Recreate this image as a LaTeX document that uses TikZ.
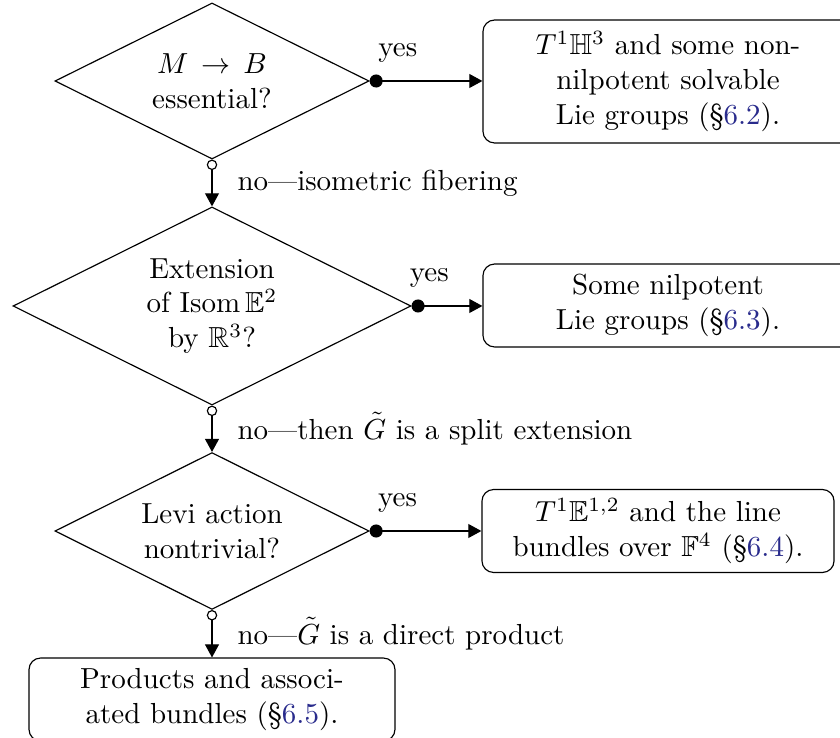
\documentclass[tikz,border=0pt]{standalone}
\usepackage{amssymb}
\usetikzlibrary{shapes.geometric,arrows.meta}
\definecolor{linkblue}{rgb}{0.16,0.17,0.55}
\newcommand{\secref}[1]{\S\textcolor{linkblue}{#1}}
\tikzset{
  decision/.style={draw, shape=diamond, aspect=2, inner sep=0pt, align=center},
  outcome/.style={draw, rounded corners=4pt, align=center, inner sep=0pt, minimum height=28.6pt},
  yesarrow/.style={{Circle[length=4.5pt]}-{Triangle[length=4.5pt,width=4.8pt]}},
  noarrow/.style={{Circle[open,length=3.6pt]}-{Triangle[length=4.5pt,width=4.8pt]}},
  yeslabel/.style={pos=0.25, above, yshift=3pt},
  nolabel/.style={midway, right, xshift=5.3pt},
}
\begin{document}
\begin{tikzpicture}[x=0.3448pt, y=-0.3448pt]
\clip (0,0) rectangle (840,738);
% decisions
\node[decision, minimum width=108.3pt, minimum height=53.8pt] (d1) at (212,81)
  {$M\,\to\,B$\\essential?};
\node[decision, minimum width=137.2pt, minimum height=68.3pt] (d2) at (212,306)
  {Extension\\of $\mathrm{Isom}\,\mathbb{E}^2$\\by $\mathbb{R}^3$?};
\node[decision, minimum width=108.3pt, minimum height=54.1pt] (d3) at (212,531)
  {Levi action\\nontrivial?};
% outcomes
\node[outcome, minimum width=127.6pt, minimum height=42.4pt] (b1) at (668,81.5)
  {$T^1\mathbb{H}^3$ and some non-\\nilpotent solvable\\Lie groups (\secref{6.2}).};
\node[outcome, minimum width=127.6pt] (b2) at (668,305.5)
  {Some nilpotent\\Lie groups (\secref{6.3}).};
\node[outcome, minimum width=121.4pt] (b3) at (658,531)
  {$T^1\mathbb{E}^{1,2}$ and the line\\bundles over $\mathbb{F}^4$ (\secref{6.4}).};
\node[outcome, minimum width=126.2pt] (b4) at (212,699.5)
  {Products and associ-\\ated bundles (\secref{6.5}).};
% yes connectors
\draw[yesarrow] (d1.east) -- (d1.east -| b1.west) node[yeslabel]{yes};
\draw[yesarrow] (d2.east) -- (d2.east -| b2.west) node[yeslabel]{yes};
\draw[yesarrow] (d3.east) -- (d3.east -| b3.west) node[yeslabel]{yes};
% no connectors
\draw[noarrow] (d1.south) -- (d2.north) node[nolabel]{no\textemdash isometric fibering};
\draw[noarrow] (d2.south) -- (d3.north) node[nolabel]{no\textemdash then $\tilde{G}$ is a split extension};
\draw[noarrow] (d3.south) -- (b4.north) node[nolabel]{no\textemdash$\tilde{G}$ is a direct product};
\end{tikzpicture}
\end{document}
